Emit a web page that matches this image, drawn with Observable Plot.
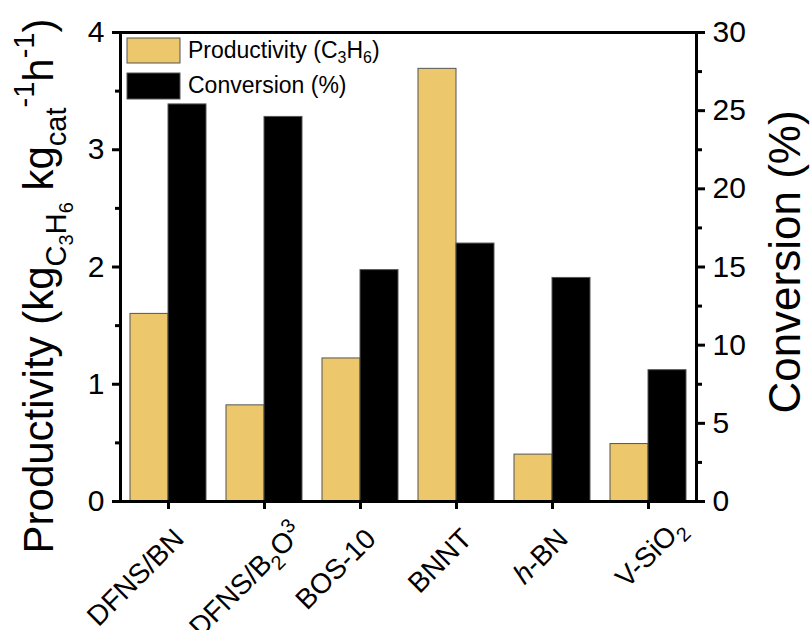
<!DOCTYPE html>
<html><head><meta charset="utf-8">
<script src="https://cdn.jsdelivr.net/npm/d3@7"></script>
<script src="https://cdn.jsdelivr.net/npm/@observablehq/plot@0.6"></script>
<style>
body{margin:0;background:#fff;}
#chart svg{display:block;}
</style>
</head><body><div id="chart"></div>
<script>
const categories = ["DFNS/BN", "DFNS/B2O3", "BOS-10", "BNNT", "h-BN", "V-SiO2"];
const productivity = [1.60, 0.82, 1.22, 3.69, 0.40, 0.49];
const conversion = [25.4, 24.6, 14.8, 16.5, 14.3, 8.4];
const series = ["Productivity", "Conversion"];
const seriesColors = ["#ECC76B", "#000000"];
const leftTicks = [0, 1, 2, 3, 4];
const leftMinor = [0.5, 1.5, 2.5, 3.5];
const rightTicks = [0, 5, 10, 15, 20, 25, 30];
const rightMinor = [2.5, 7.5, 12.5, 17.5, 22.5, 27.5];
const leftMax = 4, rightMax = 30;
const toLeft = v => v * leftMax / rightMax;

const rows = categories.flatMap((c, i) => [
  {cat: c, series: "Productivity", v: productivity[i]},
  {cat: c, series: "Conversion", v: toLeft(conversion[i])}
]);

const FONT = "'Liberation Sans', Arial, Helvetica, sans-serif";

// rich formatting of category labels (subscripts, italics)
const richLabels = {
  "DFNS/B2O3": [{t: "DFNS/B"}, {t: "2", size: 20, dy: 8}, {t: "O", size: 28, dy: -8}, {t: "3", size: 20, dy: -11}],
  "V-SiO2": [{t: "V-SiO"}, {t: "2", size: 20, dy: 8}],
  "h-BN": [{t: "h", italic: true}, {t: "-BN"}]
};
const subCats = ["DFNS/B2O3", "V-SiO2"];
const plainCats = categories.filter(c => !subCats.includes(c));

const labelOpts = {fx: d => d, frameAnchor: "bottom", text: d => d, rotate: -45, textAnchor: "end", lineAnchor: "bottom", fontSize: 28, fill: "#000", className: "xlab"};

const chart = Plot.plot({
  width: 810, height: 630,
  marginLeft: 117, marginRight: 112, marginTop: 32, marginBottom: 129,
  style: {fontFamily: FONT, background: "#fff", color: "#000"},
  fx: {domain: categories, padding: 0, label: null},
  x: {domain: series, paddingInner: 0, paddingOuter: 0.25, axis: null},
  y: {domain: [0, leftMax], label: null},
  color: {domain: series, range: seriesColors},
  marks: [
    Plot.barY(rows, {fx: "cat", x: "series", y: "v", fill: "series", stroke: "#555", strokeWidth: 1}),
    Plot.frame({anchor: "top", strokeWidth: 3, stroke: "#000"}),
    Plot.frame({anchor: "bottom", strokeWidth: 3, stroke: "#000"}),
    Plot.frame({anchor: "left", strokeWidth: 3, stroke: "#000", facetAnchor: "left"}),
    Plot.frame({anchor: "right", strokeWidth: 3, stroke: "#000", facetAnchor: "right"}),
    Plot.axisY({anchor: "left", ticks: leftTicks, tickSize: 8, tickPadding: 8, strokeWidth: 3, fontSize: 30, label: null, tickFormat: d => String(d)}),
    Plot.axisY({anchor: "left", ticks: leftMinor, tickSize: 5, strokeWidth: 3, label: null, tickFormat: () => ""}),
    Plot.axisY({anchor: "right", ticks: rightTicks.map(toLeft), tickSize: 8, tickPadding: 8, strokeWidth: 3, fontSize: 30, label: null, tickFormat: d => String(Math.round(d * rightMax / leftMax))}),
    Plot.axisY({anchor: "right", ticks: rightMinor.map(toLeft), tickSize: 5, strokeWidth: 3, label: null, tickFormat: () => ""}),
    Plot.axisFx({anchor: "bottom", tickSize: 8, strokeWidth: 3, label: null, tickFormat: () => ""}),
    Plot.text(plainCats, {...labelOpts, dx: 17, dy: 39}),
    Plot.text(["DFNS/B2O3"], {...labelOpts, dx: 40, dy: 33}),
    Plot.text(["V-SiO2"], {...labelOpts, dx: 38, dy: 28})
  ]
});

document.getElementById("chart").appendChild(chart);
const svg = d3.select(chart);

svg.selectAll(".xlab text").each(function() {
  const txt = this.textContent;
  const parts = richLabels[txt];
  if (!parts) return;
  const el = d3.select(this);
  el.text(null);
  parts.forEach(p => {
    const ts = el.append("tspan").text(p.t);
    if (p.size) ts.attr("font-size", p.size);
    if (p.dy) ts.attr("dy", p.dy);
    if (p.italic) ts.attr("font-style", "italic");
  });
});

function richText(parent, parts, base) {
  parts.forEach(p => {
    const ts = parent.append("tspan").text(p.t);
    ts.attr("font-size", p.size || base);
    if (p.dy) ts.attr("dy", p.dy);
  });
}

// Left axis title
const lt = svg.append("text")
  .attr("transform", "translate(53,286) rotate(-90)")
  .attr("text-anchor", "middle")
  .attr("font-family", FONT).attr("font-size", 42).attr("fill", "#000");
richText(lt, [
  {t: "Productivity (kg"},
  {t: "C", size: 29, dy: 13},
  {t: "3", size: 20, dy: 7},
  {t: "H", size: 29, dy: -7},
  {t: "6", size: 20, dy: 7},
  {t: " kg", size: 42, dy: -20},
  {t: "cat", size: 29, dy: 13},
  {t: "-1", size: 29, dy: -32},
  {t: "h", size: 42, dy: 19},
  {t: "-1", size: 29, dy: -19},
  {t: ")", size: 42, dy: 19}
], 42);

// Right axis title
svg.append("text")
  .attr("transform", "translate(800,262) rotate(-90)")
  .attr("text-anchor", "middle")
  .attr("font-family", FONT).attr("font-size", 44).attr("fill", "#000")
  .text("Conversion (%)");

// Legend
const lg = svg.append("g").attr("font-family", FONT).attr("font-size", 23).attr("text-anchor", "start");
lg.append("rect").attr("x", 127).attr("y", 38).attr("width", 53).attr("height", 25)
  .attr("fill", seriesColors[0]).attr("stroke", "#555").attr("stroke-width", 1);
lg.append("rect").attr("x", 127).attr("y", 73).attr("width", 53).attr("height", 26)
  .attr("fill", seriesColors[1]).attr("stroke", "#555").attr("stroke-width", 1);
const l1 = lg.append("text").attr("x", 188).attr("y", 58).attr("fill", "#000").attr("text-anchor", "start");
richText(l1, [
  {t: "Productivity (C"},
  {t: "3", size: 16, dy: 5},
  {t: "H", size: 23, dy: -5},
  {t: "6", size: 16, dy: 5},
  {t: ")", size: 23, dy: -5}
], 23);
lg.append("text").attr("x", 188).attr("y", 93).attr("fill", "#000").attr("text-anchor", "start").text("Conversion (%)");
</script>
</body></html>
